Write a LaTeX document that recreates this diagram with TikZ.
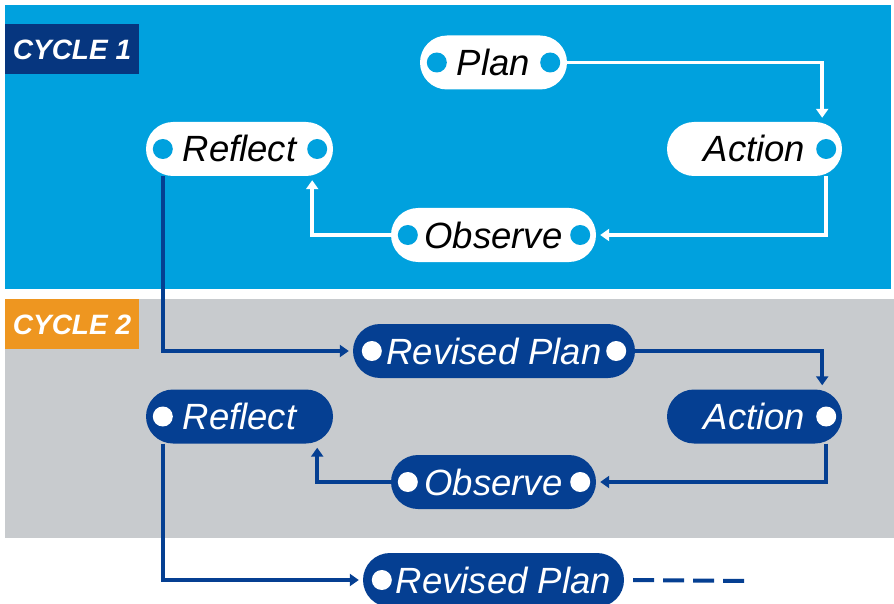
\documentclass[tikz,border=0pt]{standalone}
\usepackage{fontspec}
\setmainfont{Liberation Sans}
\usetikzlibrary{arrows.meta}
\definecolor{skyblue}{HTML}{00A1DE}
\definecolor{navy}{HTML}{053F92}
\definecolor{tagnavy}{HTML}{06367F}
\definecolor{panelgray}{HTML}{C8CBCE}
\definecolor{tagorange}{HTML}{EE9620}
\begin{document}
\begin{tikzpicture}[x=1pt,y=-1pt,
  pill/.style={rectangle,rounded corners=27pt,minimum height=54pt,inner sep=0pt,text height=26pt,text depth=0pt,font=\fontsize{36.5}{40}\selectfont\itshape},
  pillone/.style={pill,fill=white,text=black},
  pilltwo/.style={pill,fill=navy,text=white},
  dotone/.style={circle,fill=skyblue,inner sep=0pt,minimum size=20pt},
  dottwo/.style={circle,fill=white,inner sep=0pt,minimum size=20pt},
  tag/.style={rectangle,minimum width=134pt,minimum height=50pt,inner sep=0pt,text=white,text height=20pt,text depth=0pt,font=\fontsize{28}{30}\selectfont\bfseries\itshape},
  linkone/.style={white,line width=3.5pt,-{Triangle[length=9pt,width=12pt]},shorten >=4pt},
  linktwo/.style={navy,line width=3.5pt,-{Triangle[length=9pt,width=12pt]},shorten >=4pt}]
\useasboundingbox (0,0) rectangle (894,604);
\fill[skyblue] (5,5) rectangle (891,289);
\fill[panelgray] (5,299) rectangle (894,538);
\node[tag,fill=tagnavy] (cycleone) at (72,49.5) {CYCLE 1};
\node[tag,fill=tagorange] (cycletwo) at (72,324) {CYCLE 2};
\node[pillone,minimum width=147pt] (plan) at (493.5,62.5) {Plan};
\node[pillone,minimum width=175pt] (action) at (754.5,149) {Action};
\node[pillone,minimum width=187pt] (reflect) at (239.5,149) {Reflect};
\node[pillone,minimum width=205pt] (observe) at (493.5,235) {Observe};
\node[pilltwo,minimum width=282pt] (plantwo) at (494,351) {Revised Plan};
\node[pilltwo,minimum width=175pt] (actiontwo) at (754.5,416.5) {Action};
\node[pilltwo,minimum width=187pt] (reflecttwo) at (239.5,416.5) {Reflect};
\node[pilltwo,minimum width=205pt] (observetwo) at (493.5,482) {Observe};
\node[pilltwo,minimum width=261pt] (planthree) at (493.5,580) {\hspace*{20pt}Revised Plan};
\node[dotone] (plan-l) at ([xshift=17]plan.west) {};
\node[dotone] (plan-r) at ([xshift=-17]plan.east) {};
\node[dotone] (action-r) at ([xshift=-16]action.east) {};
\node[dotone] (reflect-l) at ([xshift=17]reflect.west) {};
\node[dotone] (reflect-r) at ([xshift=-16]reflect.east) {};
\node[dotone] (observe-l) at ([xshift=17]observe.west) {};
\node[dotone] (observe-r) at ([xshift=-16]observe.east) {};
\node[dottwo] (plantwo-l) at ([xshift=19]plantwo.west) {};
\node[dottwo] (plantwo-r) at ([xshift=-19]plantwo.east) {};
\node[dottwo] (actiontwo-r) at ([xshift=-16]actiontwo.east) {};
\node[dottwo] (reflecttwo-l) at ([xshift=17]reflecttwo.west) {};
\node[dottwo] (observetwo-l) at ([xshift=17]observetwo.west) {};
\node[dottwo] (observetwo-r) at ([xshift=-16]observetwo.east) {};
\node[dottwo] (planthree-l) at ([xshift=19]planthree.west) {};
\coordinate (dashend) at (747,581);
\draw[linkone] (plan.east) -| ([xshift=-20]action.north east);
\draw[linkone] ([xshift=-16]action.south east) |- (observe.east);
\draw[linkone] (observe.west) -| ([xshift=-21]reflect.south east);
\draw[linktwo] ([xshift=17]reflect.south west) |- (plantwo.west);
\draw[linktwo] (plantwo.east) -| ([xshift=-20]actiontwo.north east);
\draw[linktwo] ([xshift=-16]actiontwo.south east) |- (observetwo.east);
\draw[linktwo] (observetwo.west) -| ([xshift=-16]reflecttwo.south east);
\draw[linktwo] ([xshift=17]reflecttwo.south west) |- (planthree.west);
\draw[navy,line width=4pt,dash pattern=on 21pt off 9pt] ([xshift=9]planthree.east) -- (dashend);
\end{tikzpicture}
\end{document}
